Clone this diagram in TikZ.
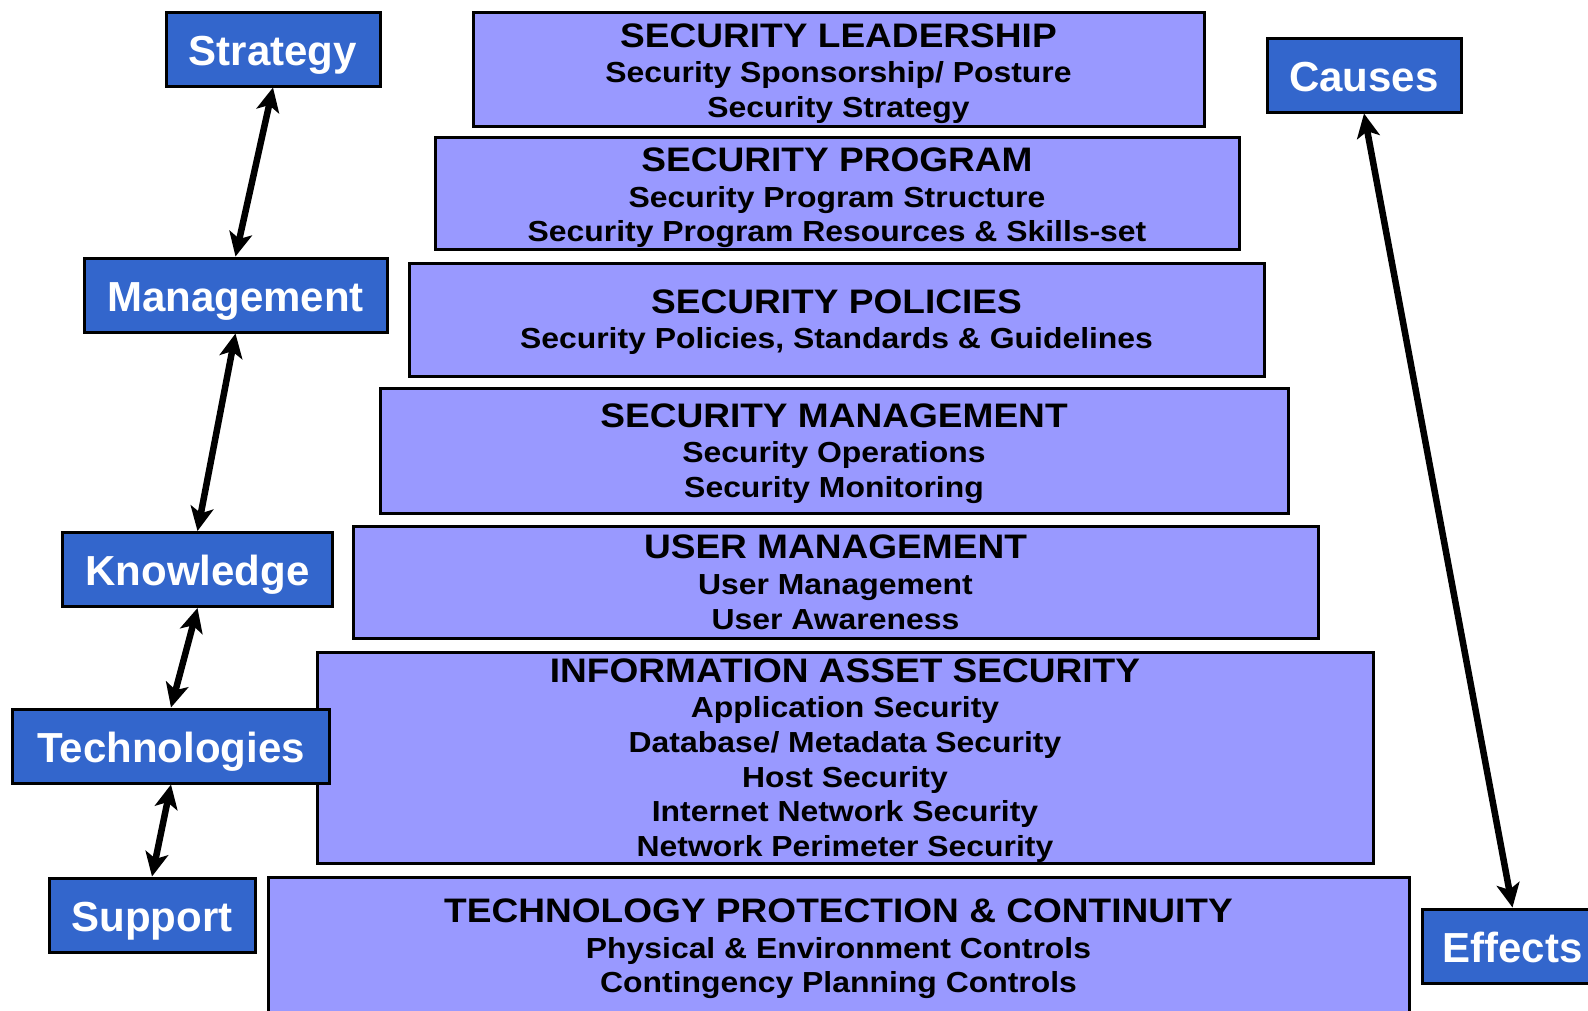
\documentclass[tikz,border=0pt]{standalone}
\usepackage{fontspec}
\newfontfamily\labfont{Liberation Sans}
\newfontfamily\ttlfont{Liberation Sans}[FakeStretch=1.09]
\newfontfamily\subfnt{Liberation Sans}[FakeStretch=1.10]
\usetikzlibrary{arrows.meta}
\definecolor{labblue}{HTML}{3366CC}
\definecolor{layerblue}{HTML}{9999FF}
\newcommand\layertitle[1]{{\ttlfont\bfseries\fontsize{34}{34}\selectfont #1}\\[1pt]}
\newcommand\lastdepth{\vphantom{gy}}
\tikzset{
  labelbox/.style={draw=black, line width=3pt, fill=labblue, text=white,
    font=\labfont\bfseries\fontsize{42}{48}\selectfont, inner sep=0pt,
    minimum height=74pt, text height=40pt, text depth=8pt},
  layerbox/.style={draw=black, line width=3pt, fill=layerblue, inner sep=0pt},
  layertext/.style={align=center, inner sep=0pt, text=black,
    font=\subfnt\bfseries\fontsize{29}{34.6}\selectfont},
  link/.style={line width=6.5pt,
    {Stealth[length=24pt,width=23pt,inset=6pt]}-{Stealth[length=24pt,width=23pt,inset=6pt]}}
}
\begin{document}
\begin{tikzpicture}[x=1pt,y=-1pt]
\useasboundingbox (0,0) rectangle (1588,1010);
\fill[white] (0,0) rectangle (1588,1010);

% layer boxes
\node[layerbox, minimum width=731pt, minimum height=114pt] (L1) at (838.5,69) {};
\node[layerbox, minimum width=804pt, minimum height=112pt] (L2) at (837,193) {};
\node[layerbox, minimum width=855pt, minimum height=113pt] (L3) at (836.5,319.5) {};
\node[layerbox, minimum width=908pt, minimum height=125pt] (L4) at (834,450.5) {};
\node[layerbox, minimum width=965pt, minimum height=112pt] (L5) at (835.5,582) {};
\node[layerbox, minimum width=1056pt, minimum height=211pt] (L6) at (845,757.5) {};
\node[layerbox, minimum width=1141pt, minimum height=153pt] (L7) at (838.5,953.5) {};

% layer texts
\node[layertext] (L1t) at ([yshift=-4.4pt]L1.center)
  {\layertitle{SECURITY LEADERSHIP}Security Sponsorship/ Posture\\Security Strategy\lastdepth};
\node[layertext] (L2t) at ([yshift=-5pt]L2.center)
  {\layertitle{SECURITY PROGRAM}Security Program Structure\\Security Program Resources \& Skills-set\lastdepth};
\node[layertext] (L3t) at ([yshift=-2.8pt]L3.center)
  {\layertitle{SECURITY POLICIES}Security Policies, Standards \& Guidelines\lastdepth};
\node[layertext] (L4t) at ([yshift=-3.1pt]L4.center)
  {\layertitle{SECURITY MANAGEMENT}Security Operations\\Security Monitoring\lastdepth};
\node[layertext] (L5t) at ([yshift=-3.1pt]L5.center)
  {\layertitle{USER MANAGEMENT}User Management\\User Awareness\lastdepth};
\node[layertext] (L6t) at ([yshift=-3pt]L6.center)
  {\layertitle{INFORMATION ASSET SECURITY}Application Security\\Database/ Metadata Security\\Host Security\\Internet Network Security\\Network Perimeter Security\lastdepth};
\node[layertext, anchor=north] (L7t) at ([yshift=-23pt]L7.north)
  {\layertitle{TECHNOLOGY PROTECTION \& CONTINUITY}Physical \& Environment Controls\\Contingency Planning Controls\lastdepth};

% side labels
\node[labelbox, minimum width=214pt] (S)  at (273,49) {Strategy};
\node[labelbox, minimum width=303pt] (M)  at (235.5,295) {Management};
\node[labelbox, minimum width=270pt] (K)  at (197.5,569.5) {Knowledge};
\node[labelbox, minimum width=317pt] (T)  at (171,746) {Technologies};
\node[labelbox, minimum width=206pt] (Su) at (152,915) {Support};
\node[labelbox, minimum width=194pt] (C)  at (1364,75) {Causes};
\node[labelbox, minimum width=181pt] (E)  at (1512.5,946) {Effects};

% connectors
\draw[link] (S.south) -- (M.north);
\draw[link] (M.south) -- (K.north);
\draw[link] (K.south) -- (T.north);
\draw[link] (T.south) -- (Su.north);
\draw[link] (C.south) -- (E.north);
\end{tikzpicture}
\end{document}
